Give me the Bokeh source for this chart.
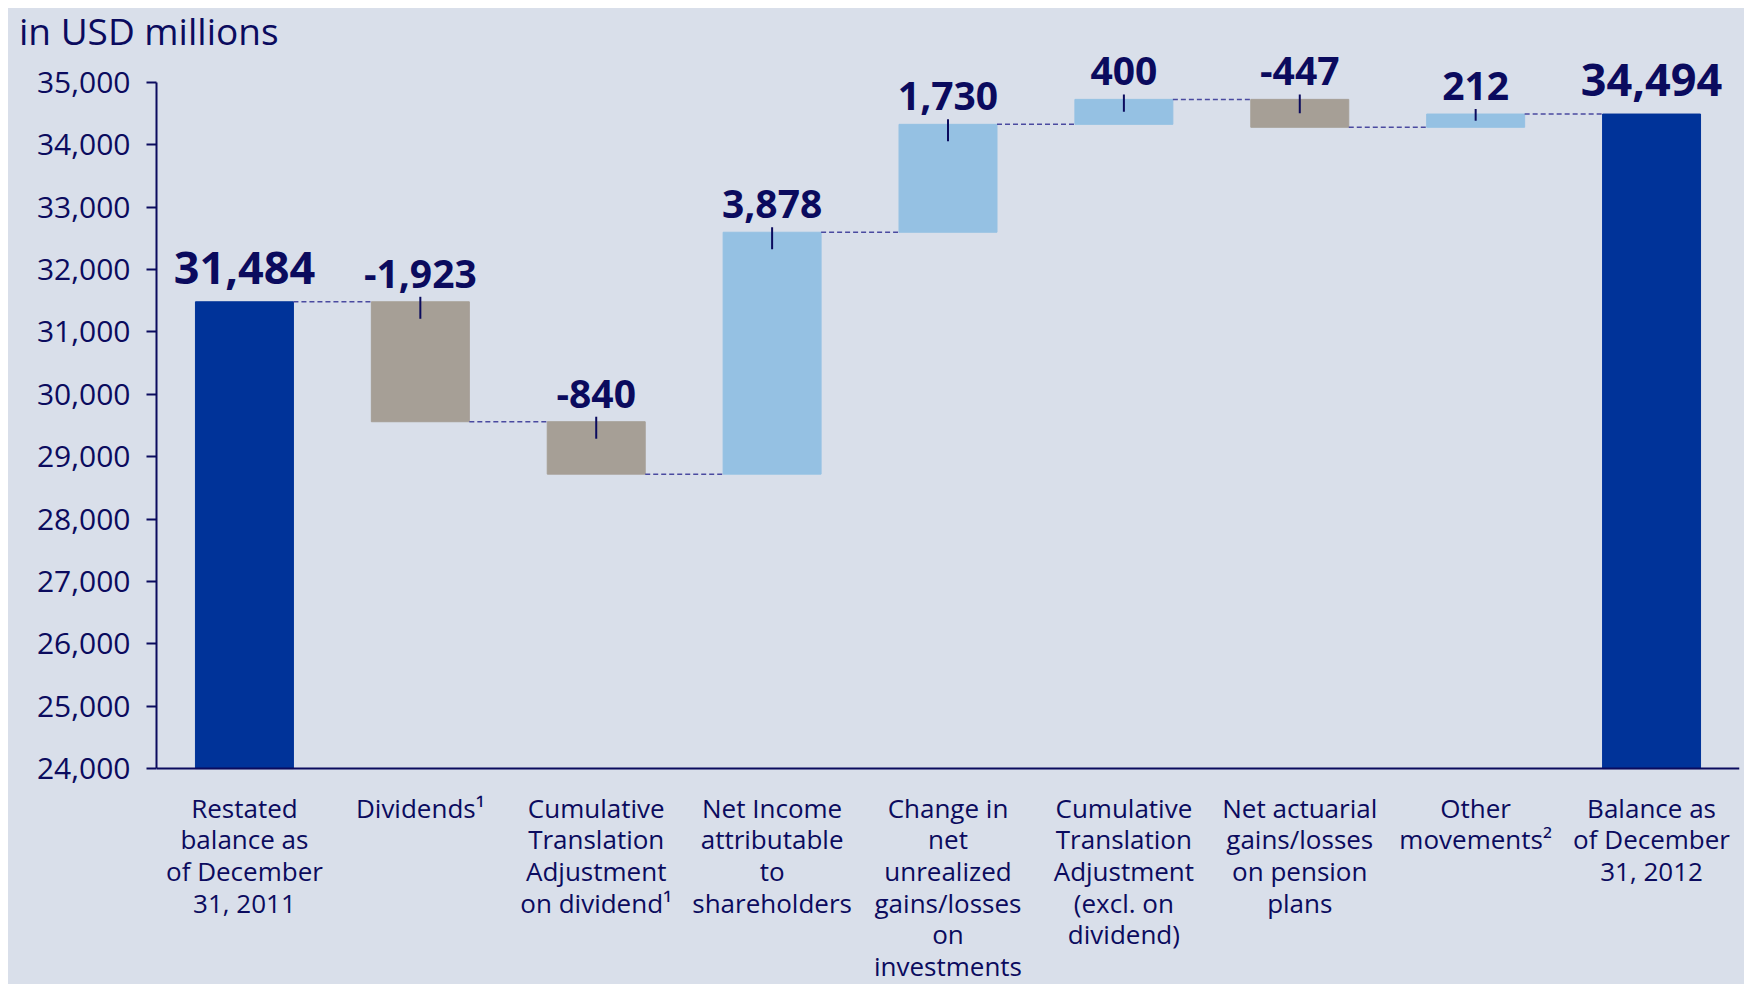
from bokeh.plotting import figure
from bokeh.layouts import column
from bokeh.models import Range1d, FixedTicker, NumeralTickFormatter, ColumnDataSource, Span, Div
from bokeh.core.properties import value
from bokeh.embed import file_html
from bokeh.resources import INLINE

categories = [
    "Restated\nbalance as\nof December\n31, 2011",
    "Dividends\u00b9",
    "Cumulative\nTranslation\nAdjustment\non dividend\u00b9",
    "Net Income\nattributable\nto\nshareholders",
    "Change in\nnet\nunrealized\ngains/losses\non\ninvestments",
    "Cumulative\nTranslation\nAdjustment\n(excl. on\ndividend)",
    "Net actuarial\ngains/losses\non pension\nplans",
    "Other\nmovements\u00b2",
    "Balance as\nof December\n31, 2012",
]
deltas = [31484, -1923, -840, 3878, 1730, 400, -447, 212, 34494]
kinds = ["total", "neg", "neg", "pos", "pos", "pos", "neg", "pos", "total"]
y_ticks = [24000, 25000, 26000, 27000, 28000, 29000, 30000, 31000, 32000, 33000, 34000, 35000]

BG = "#D9DFEA"
NAVY = "#0B0B5E"
COLORS = {"total": "#003399", "neg": "#A69F96", "pos": "#95C1E3"}
FONT = "Open Sans"
BAR_W = 0.557
PX = 1000 / 62.4  # data units per pixel (approx)

y_min = y_ticks[0]
n = len(categories)
centers = [i + 0.5 for i in range(n)]

bottoms, tops, ends = [], [], []
level = 0
for d, k in zip(deltas, kinds):
    if k == "total":
        bottoms.append(y_min)
        tops.append(d)
        level = d
    else:
        bottoms.append(min(level, level + d))
        tops.append(max(level, level + d))
        level = level + d
    ends.append(level)

bars = ColumnDataSource(dict(
    x=centers, bottom=bottoms, top=tops,
    color=[COLORS[k] for k in kinds],
    text=[f"{d:,}" for d in deltas],
    size=["45px" if k == "total" else "39px" for k in kinds],
    off=[-34 if k == "total" else -28 for k in kinds],
))

TITLE_H = 46
OVERLAP = 16
FIG_W = 1736
FIG_H = 946
TOP_PX = 44      # frame top above the 35,000 tick
BOTTOM_PX = 216  # frame bottom below the category axis line

p = figure(width=FIG_W, height=FIG_H, output_backend="svg", toolbar_location=None,
           x_range=Range1d(0, n),
           y_range=Range1d(y_min - BOTTOM_PX * PX, y_ticks[-1] + TOP_PX * PX),
           min_border_left=148, min_border_right=5, min_border_top=0, min_border_bottom=0,
           margin=(-OVERLAP, 0, 0, 0))
p.background_fill_color = None
p.border_fill_color = None
p.outline_line_color = None
p.grid.visible = False
p.xaxis.visible = False

p.vbar(x="x", bottom="bottom", top="top", width=BAR_W, color="color", source=bars)

# category axis line
p.add_layout(Span(location=y_min, dimension="width", line_color=NAVY, line_width=2))

# connectors
cx0, cx1, cy = [], [], []
for i in range(n - 1):
    cx0.append(centers[i] + BAR_W / 2)
    cx1.append(centers[i + 1] - BAR_W / 2)
    cy.append(ends[i])
p.segment(x0=cx0, y0=cy, x1=cx1, y1=cy, line_color="#4A4AA0", line_width=1.5, line_dash="5 3")

# small ticks at bar tops
tx, ty0, ty1 = [], [], []
for i, (d, k) in enumerate(zip(deltas, kinds)):
    if k == "total":
        continue
    tx.append(centers[i])
    ty0.append(tops[i] + 5 * PX)
    ty1.append(tops[i] - min(17 * PX, abs(d) / 2))
p.segment(x0=tx, y0=ty0, x1=tx, y1=ty1, line_color=NAVY, line_width=2)

# value labels
p.text(x="x", y="top", text="text", source=bars, text_align="center",
       text_baseline="middle", y_offset="off", text_color=NAVY,
       text_font=value(FONT), text_font_style="bold", text_font_size="size")

# category labels
p.text(x=centers, y=[y_min] * n, text=categories, text_align="center",
       text_baseline="top", y_offset=21, text_color=NAVY, text_line_height=0.88,
       text_font=value(FONT), text_font_size="26px")

# value axis
yax = p.yaxis[0]
yax.ticker = FixedTicker(ticks=y_ticks)
yax.bounds = (y_ticks[0], y_ticks[-1])
yax.formatter = NumeralTickFormatter(format="0,0")
yax.axis_line_color = NAVY
yax.axis_line_width = 2
yax.major_tick_line_color = NAVY
yax.major_tick_line_width = 2
yax.major_tick_out = 10
yax.major_tick_in = 0
yax.minor_tick_line_color = None
yax.major_label_text_font = FONT
yax.major_label_text_font_size = "30px"
yax.major_label_text_color = NAVY
yax.major_label_standoff = 16

title = Div(text="in USD millions", width=FIG_W, height=TITLE_H, margin=0,
            styles={"color": NAVY, "font-family": FONT,
                    "font-size": "37px", "line-height": "46px", "padding-left": "11px",
                    "box-sizing": "border-box", "white-space": "nowrap"})

layout = column(title, p, spacing=0, margin=(8, 0, 0, 8),
                styles={"background-color": BG})
open("out.html", "w").write(file_html(layout, INLINE))
